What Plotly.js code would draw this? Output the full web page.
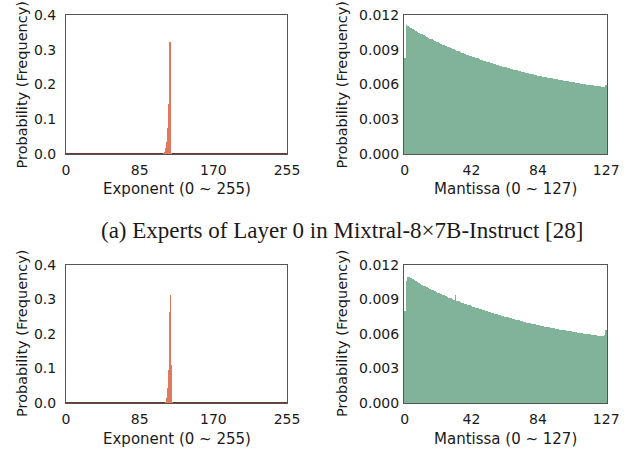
<!DOCTYPE html>
<html>
<head>
<meta charset="utf-8">
<script src="https://cdn.plot.ly/plotly-3.0.1.min.js"></script>
<style>html,body{margin:0;padding:0;background:#fff;}#chart{width:635px;height:452px;}</style>
</head>
<body>
<div id="chart"></div>
<script>
// ---- Data ----
// Exponent histograms: only the non-empty bins are listed (all other bins ~0)
const expBinsTop = [113, 114, 115, 116, 117, 118, 119, 120, 121, 122];
const expProbTop = [0.002, 0.005, 0.016, 0.035, 0.074, 0.145, 0.248, 0.321, 0.146, 0.003];
const expBinsBottom = [115, 116, 117, 118, 119, 120, 121, 122, 123];
const expProbBottom = [0.004, 0.014, 0.044, 0.095, 0.154, 0.265, 0.313, 0.110, 0.003];

// Mantissa histograms: bins 0..127
const mantBins = Array.from({length: 128}, (_, i) => i);
const mantProbTop = [
  0.00831, 0.01110, 0.01104, 0.01095, 0.01087, 0.01079, 0.01071, 0.01063, 0.01055, 0.01047,
  0.01040, 0.01032, 0.01025, 0.01018, 0.01011, 0.01004, 0.00997, 0.00990, 0.00983, 0.00976,
  0.00970, 0.00963, 0.00957, 0.00950, 0.00944, 0.00938, 0.00932, 0.00926, 0.00920, 0.00914,
  0.00908, 0.00903, 0.00897, 0.00891, 0.00886, 0.00880, 0.00875, 0.00870, 0.00865, 0.00859,
  0.00854, 0.00849, 0.00844, 0.00839, 0.00834, 0.00830, 0.00825, 0.00820, 0.00815, 0.00811,
  0.00806, 0.00802, 0.00797, 0.00793, 0.00789, 0.00784, 0.00780, 0.00776, 0.00772, 0.00767,
  0.00763, 0.00759, 0.00755, 0.00751, 0.00747, 0.00744, 0.00740, 0.00736, 0.00732, 0.00728,
  0.00725, 0.00721, 0.00718, 0.00714, 0.00710, 0.00707, 0.00703, 0.00700, 0.00697, 0.00693,
  0.00690, 0.00687, 0.00683, 0.00680, 0.00677, 0.00674, 0.00671, 0.00668, 0.00665, 0.00662,
  0.00660, 0.00657, 0.00654, 0.00652, 0.00649, 0.00647, 0.00644, 0.00642, 0.00639, 0.00636,
  0.00634, 0.00632, 0.00629, 0.00627, 0.00625, 0.00622, 0.00620, 0.00618, 0.00615, 0.00613,
  0.00611, 0.00608, 0.00607, 0.00604, 0.00602, 0.00600, 0.00598, 0.00596, 0.00594, 0.00592,
  0.00590, 0.00588, 0.00586, 0.00584, 0.00582, 0.00580, 0.00578, 0.00598
];
const mantProbBottom = [
  0.00800, 0.01061, 0.01096, 0.01095, 0.01088, 0.01075, 0.01067, 0.01059, 0.01051, 0.01043,
  0.01036, 0.01028, 0.01021, 0.01014, 0.01007, 0.01000, 0.00993, 0.00986, 0.00979, 0.00972,
  0.00966, 0.00959, 0.00953, 0.00947, 0.00941, 0.00935, 0.00929, 0.00923, 0.00917, 0.00911,
  0.00905, 0.00900, 0.00935, 0.00889, 0.00884, 0.00878, 0.00873, 0.00868, 0.00863, 0.00858,
  0.00853, 0.00848, 0.00843, 0.00838, 0.00834, 0.00830, 0.00825, 0.00820, 0.00815, 0.00811,
  0.00806, 0.00802, 0.00797, 0.00793, 0.00789, 0.00784, 0.00780, 0.00776, 0.00772, 0.00767,
  0.00763, 0.00759, 0.00755, 0.00751, 0.00747, 0.00744, 0.00740, 0.00736, 0.00732, 0.00728,
  0.00725, 0.00721, 0.00718, 0.00714, 0.00710, 0.00707, 0.00703, 0.00700, 0.00697, 0.00693,
  0.00690, 0.00687, 0.00683, 0.00680, 0.00677, 0.00674, 0.00671, 0.00668, 0.00665, 0.00662,
  0.00660, 0.00657, 0.00654, 0.00652, 0.00649, 0.00647, 0.00644, 0.00642, 0.00639, 0.00636,
  0.00634, 0.00632, 0.00629, 0.00627, 0.00625, 0.00622, 0.00620, 0.00618, 0.00615, 0.00613,
  0.00611, 0.00608, 0.00607, 0.00604, 0.00602, 0.00600, 0.00598, 0.00596, 0.00594, 0.00592,
  0.00590, 0.00588, 0.00586, 0.00582, 0.00580, 0.00583, 0.00595, 0.00635
];

// Tick labels and texts
const expTicks = [0, 85, 170, 255];
const mantTicks = [0, 42, 84, 127];
const expYTicks = [0, 0.1, 0.2, 0.3, 0.4];
const mantYTicks = [0, 0.003, 0.006, 0.009, 0.012];
const yTitle = "Probability (Frequency)";
const expTitle = "Exponent (0 ~ 255)";
const mantTitle = "Mantissa (0 ~ 127)";
const caption = "(a) Experts of Layer 0 in Mixtral-8×7B-Instruct [28]";

// ---- Styling ----
const W = 635, H = 452;
const EXP_COLOR = "#E07A5F";
const MANT_COLOR = "#81B29A";
const FONT = "DejaVu Sans";
const px = v => v / W;
const py = v => 1 - v / H;

function bar(x, y, color, xa, ya, w) {
  return {type: "bar", x: x, y: y, xaxis: xa, yaxis: ya,
    marker: {color: color, line: {width: 0}}, width: w, hoverinfo: "skip", showlegend: false};
}

const traces = [
  bar(expBinsTop, expProbTop, EXP_COLOR, "x", "y", 1.2),
  bar(mantBins, mantProbTop, MANT_COLOR, "x2", "y2", 1),
  bar(expBinsBottom, expProbBottom, EXP_COLOR, "x3", "y3", 1.2),
  bar(mantBins, mantProbBottom, MANT_COLOR, "x4", "y4", 1)
];

function xAxis(dom, range, ticks, anchor) {
  return {domain: dom, range: range, anchor: anchor, tickmode: "array", tickvals: ticks,
    ticktext: ticks.map(String), showgrid: false, zeroline: false, showline: true, mirror: true,
    linecolor: "#555", linewidth: 1, ticks: "outside", ticklen: 3, tickcolor: "rgba(0,0,0,0)",
    tickfont: {family: FONT, size: 14, color: "#1a1a1a"}, fixedrange: true};
}
function yAxis(dom, range, ticks, fmt, anchor, zc, tl) {
  return {domain: dom, range: range, anchor: anchor, tickmode: "array", tickvals: ticks,
    ticktext: ticks.map(v => v.toFixed(fmt)), showgrid: false, zeroline: true, zerolinecolor: zc,
    zerolinewidth: 1.5, showline: true, mirror: true, linecolor: "#555", linewidth: 1,
    ticks: "outside", ticklen: tl, tickcolor: "rgba(0,0,0,0)",
    tickfont: {family: FONT, size: 14, color: "#1a1a1a"}, fixedrange: true};
}

const topY = [py(154), py(15)];
const botY = [py(403), py(265)];
const leftX = [px(66), px(287)];
const rightX = [px(404), px(607)];

function ann(text, x, y, opts) {
  return Object.assign({text: text, x: x, y: y, xref: "paper", yref: "paper",
    showarrow: false, xanchor: "center", yanchor: "middle",
    font: {family: FONT, size: 15, color: "#1a1a1a"}}, opts || {});
}
const yTitleFont = {family: FONT, size: 14.5, color: "#1a1a1a"};

const layout = {
  width: W, height: H,
  margin: {l: 0, r: 0, t: 0, b: 0},
  paper_bgcolor: "#fff", plot_bgcolor: "#fff",
  bargap: 0, showlegend: false,
  xaxis: xAxis(leftX, [0, 255], expTicks, "y"),
  yaxis: yAxis(topY, [0, 0.4], expYTicks, 1, "x", "#6b3a2e", 6),
  xaxis2: xAxis(rightX, [-0.5, 127.5], mantTicks, "y2"),
  yaxis2: yAxis(topY, [0, 0.012], mantYTicks, 3, "x2", "#333", 1),
  xaxis3: xAxis(leftX, [0, 255], expTicks, "y3"),
  yaxis3: yAxis(botY, [0, 0.4], expYTicks, 1, "x3", "#6b3a2e", 6),
  xaxis4: xAxis(rightX, [-0.5, 127.5], mantTicks, "y4"),
  yaxis4: yAxis(botY, [0, 0.012], mantYTicks, 3, "x4", "#333", 1),
  annotations: [
    ann(yTitle, px(22), py(85.5), {textangle: -90, font: yTitleFont}),
    ann(yTitle, px(342), py(85.5), {textangle: -90, font: yTitleFont}),
    ann(yTitle, px(22), py(334), {textangle: -90, font: yTitleFont}),
    ann(yTitle, px(342), py(334), {textangle: -90, font: yTitleFont}),
    ann(expTitle, px(176.5), py(189)),
    ann(mantTitle, px(505.5), py(189)),
    ann(expTitle, px(176.5), py(439)),
    ann(mantTitle, px(505.5), py(439)),
    ann(caption, px(342), py(231), {font: {family: "Liberation Serif", size: 23, color: "#1a1a1a"}})
  ]
};

Plotly.newPlot("chart", traces, layout, {displayModeBar: false, staticPlot: true});
</script>
</body>
</html>
